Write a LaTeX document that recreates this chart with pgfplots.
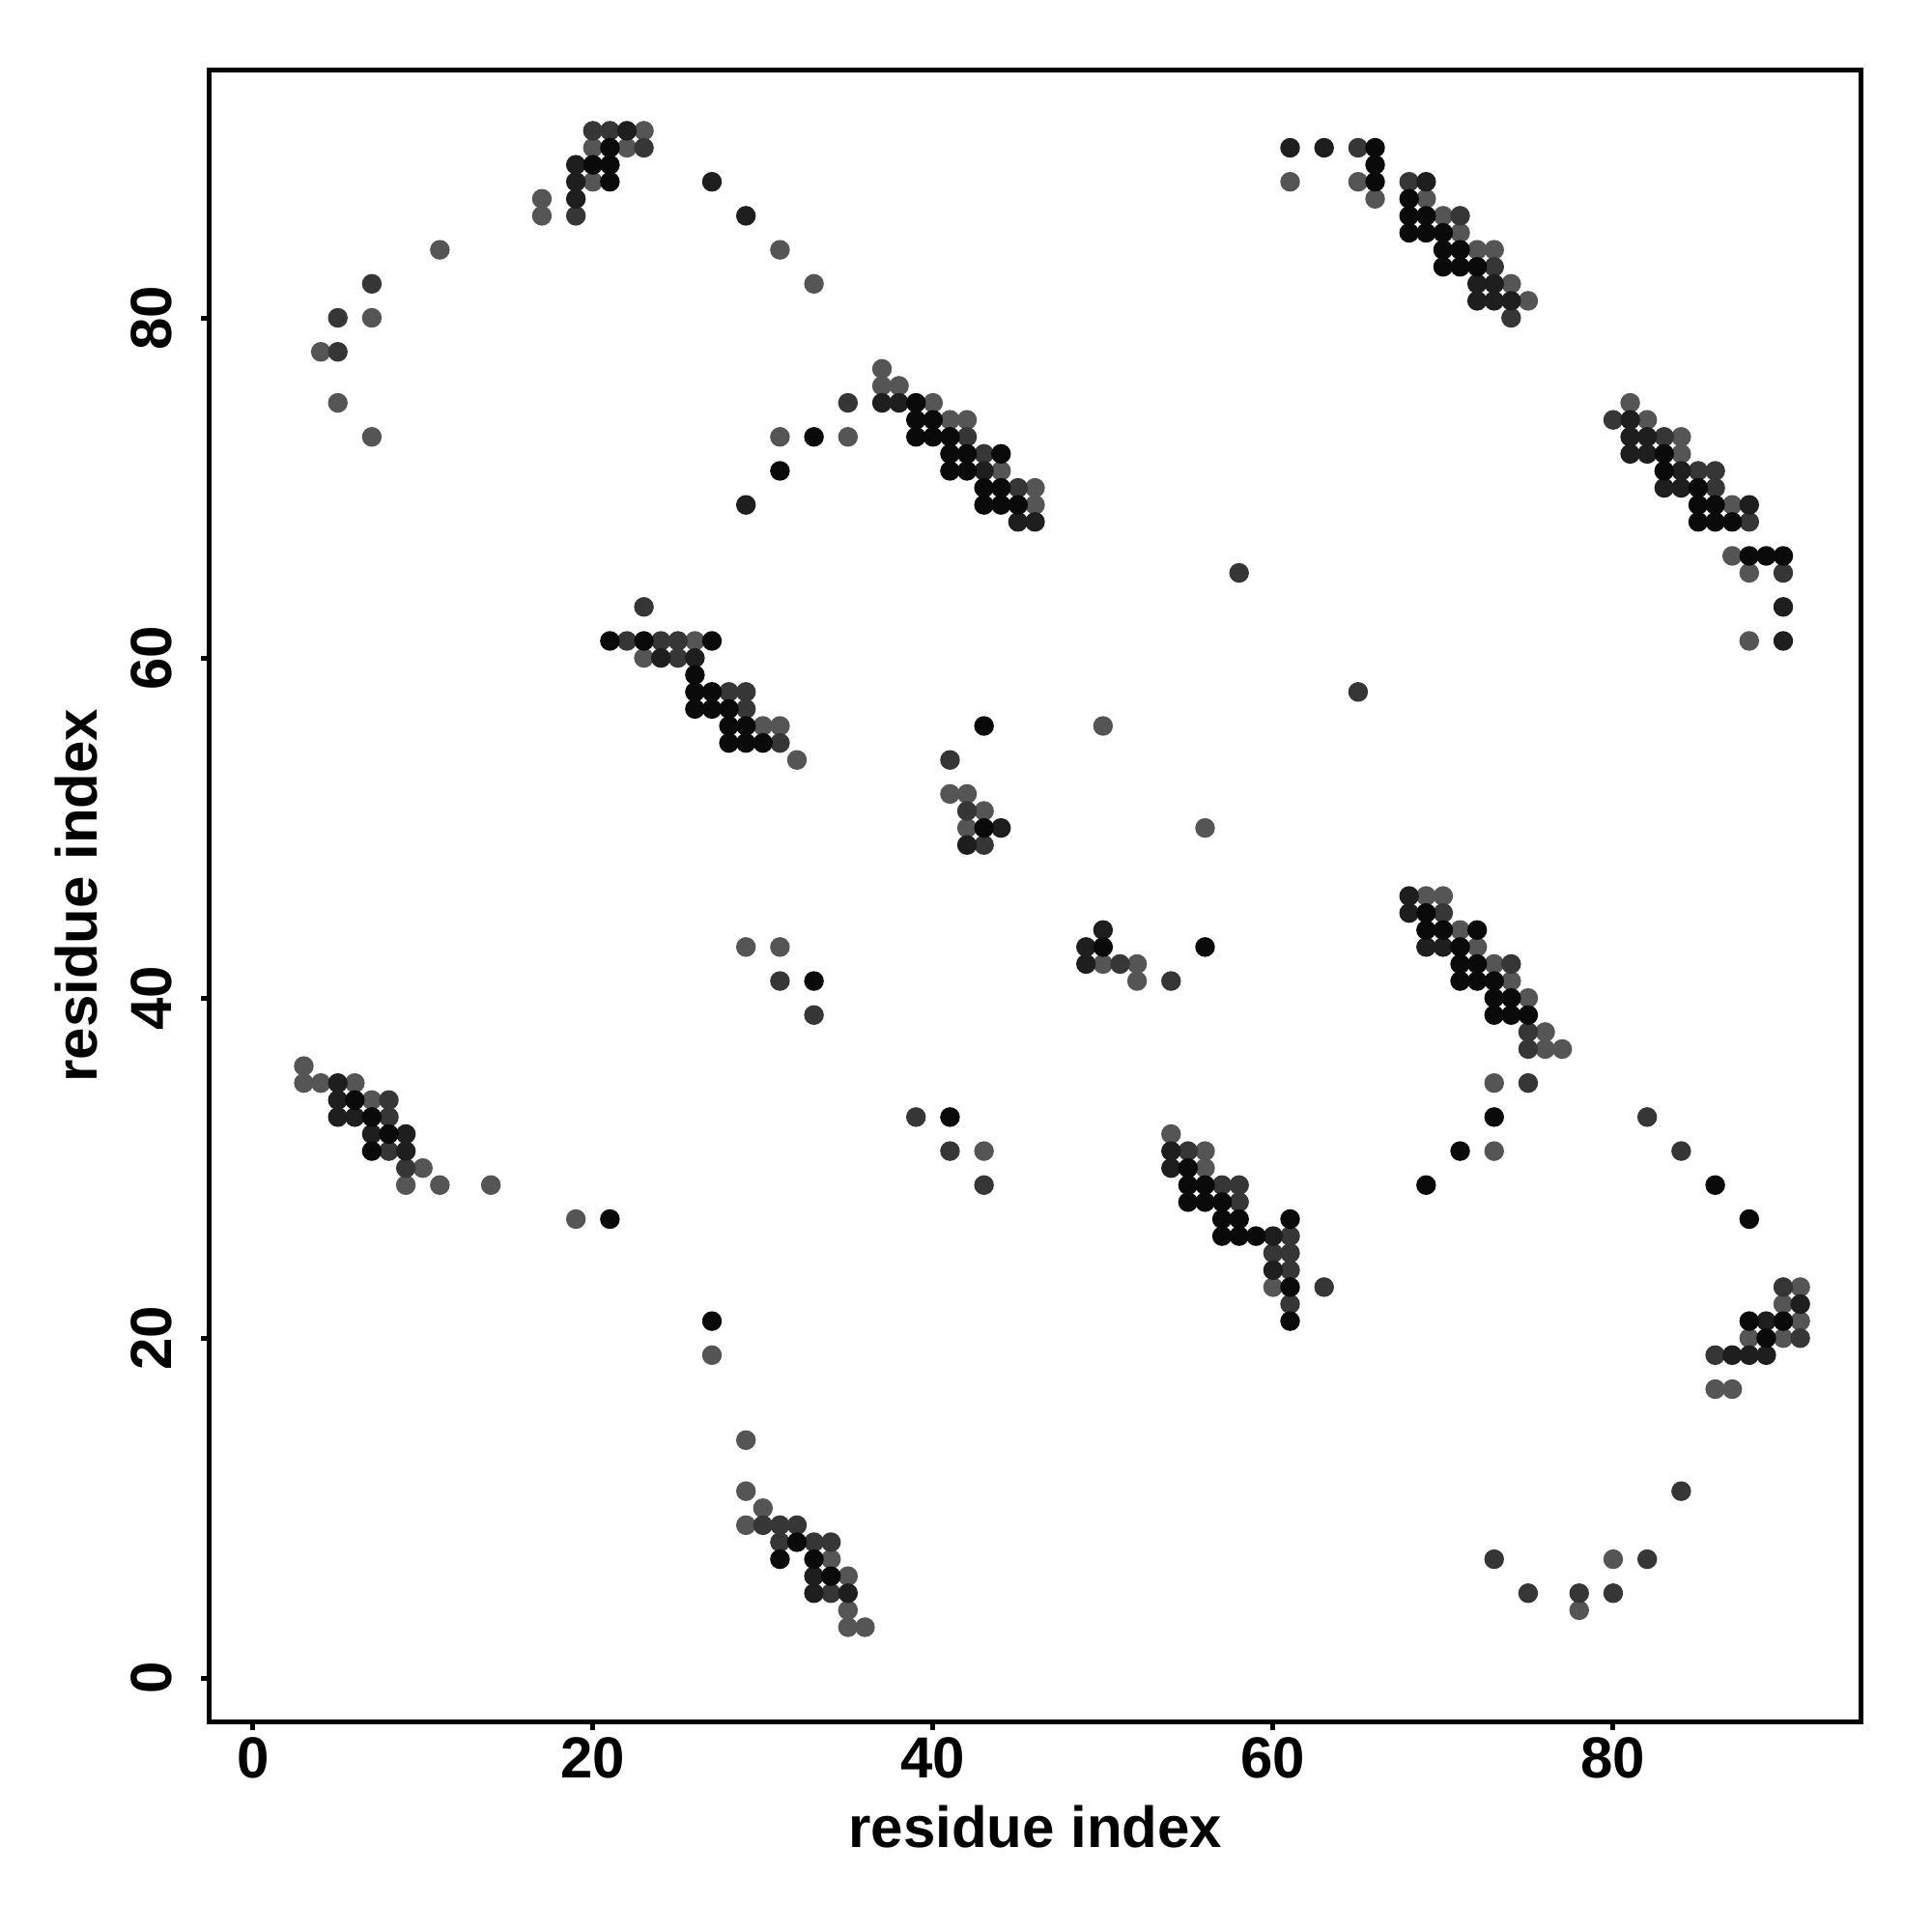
\documentclass[border=0pt]{standalone}
\usepackage{fontspec}
\setmainfont{Liberation Sans}
\usepackage{pgfplots}
\pgfplotsset{compat=1.18}
\definecolor{cA}{HTML}{0A0A0A}
\definecolor{cB}{HTML}{1E1E1E}
\definecolor{cC}{HTML}{363636}
\definecolor{cD}{HTML}{555555}
\begin{document}
\begin{tikzpicture}
\useasboundingbox (-43.4pt,-43.6pt) rectangle (356.6pt,356.4pt);
\begin{axis}[
  at={(0pt,0pt)}, anchor=south west, scale only axis,
  width=342pt, height=342pt,
  xmin=-2.54, xmax=94.6, ymin=-2.54, ymax=94.6,
  xtick={0,20,40,60,80}, ytick={0,20,40,60,80},
  tick align=outside, xtick pos=bottom, ytick pos=left,
  major tick length=1.7pt,
  axis line style={line width=1pt},
  every tick/.style={black, line width=1pt},
  /pgf/number format/assume math mode=true,
  ticklabel style={font=\fontsize{12}{14}\selectfont\bfseries},
  xticklabel style={anchor=north, yshift=1.9pt},
  yticklabel style={rotate=90, anchor=south, yshift=2.6pt},
  label style={font=\fontsize{12}{14}\selectfont\bfseries},
  xlabel={residue index}, ylabel={residue index},
  xlabel style={at={(axis description cs:0.5,0)}, anchor=center, yshift=-21.9pt},
  ylabel style={at={(axis description cs:0,0.5)}, anchor=center, yshift=27.6pt},
  every axis plot/.append style={only marks, mark=*, mark size=1.84pt},
]
\addplot[cD, mark options={draw=none, fill=cD}] coordinates {
(23,91) (20,90) (22,90) (20,88) (17,87) (17,86) (11,84) (7,80) (4,78) (5,75) (7,73)
(31,84) (33,82) (37,77) (37,76) (38,76) (40,75) (41,74) (42,74) (31,73) (35,73)
(44,71) (46,70) (46,69) (61,88) (65,88) (66,87) (69,87) (70,86) (71,85) (72,84) (73,84)
(74,82) (75,81) (81,75) (82,74) (84,73) (84,72) (87,69) (87,66) (88,65) (88,61)
(26,61) (23,60) (30,56) (31,56) (32,54) (50,56) (56,50) (41,52) (42,52) (43,51) (42,50)
(50,42) (52,42) (52,41) (69,46) (70,46) (71,44) (72,43) (73,42) (74,41) (76,38) (76,37)
(77,37) (73,35) (75,40) (3,36) (3,35) (4,35) (6,35) (7,34) (10,30) (9,29) (11,29) (14,29)
(54,32) (56,31) (56,30) (60,23) (29,14) (29,11) (30,10) (29,9) (34,7) (35,6) (35,4)
(35,3) (36,3) (91,23) (90,22) (91,21) (88,20) (90,20) (86,17) (87,17) (27,19) (19,27)
(29,43) (31,43) (43,31) (73,31) (78,4) (80,7)
};
\addplot[cC, mark options={draw=none, fill=cC}] coordinates {
(20,91) (21,91) (23,90) (19,86) (7,82) (5,80) (5,78) (35,75) (42,73) (43,72) (45,70)
(65,90) (68,88) (71,86) (73,83) (74,80) (80,74) (83,73) (86,71) (85,71) (86,70) (88,68)
(90,65) (23,63) (22,61) (24,61) (25,61) (25,60) (28,58) (29,58) (29,57) (31,55) (41,54)
(42,51) (43,49) (51,42) (54,41) (70,45) (74,42) (75,38) (75,37) (75,35) (8,34) (8,33)
(8,31) (9,30) (55,31) (57,29) (58,29) (58,28) (61,26) (60,25) (61,25) (61,22) (63,23)
(61,24) (32,9) (31,8) (33,8) (34,8) (30,9) (34,5) (31,9) (90,23) (86,19) (91,20)
(58,65) (65,58) (31,41) (33,39) (39,33) (41,31) (43,29) (84,31) (84,11) (73,7) (75,5)
(78,5) (80,5) (82,7) (82,33)
};
\addplot[cB, mark options={draw=none, fill=cB}] coordinates {
(22,91) (19,89) (19,88) (19,87) (27,88) (29,86) (37,75) (38,75) (43,71) (29,69) (45,68)
(46,68) (61,90) (63,90) (69,88) (72,82) (73,82) (72,81) (73,81) (74,81) (81,74) (81,73)
(82,73) (81,72) (82,72) (84,71) (83,70) (84,70) (88,69) (90,63) (90,61) (24,60) (26,60)
(44,50) (42,49) (50,44) (49,43) (49,42) (68,46) (68,45) (69,43) (70,43) (5,35) (5,34)
(5,33) (6,33) (7,32) (9,31) (9,32) (54,31) (54,30) (60,26) (60,24) (33,6) (33,5) (35,5)
(89,21) (88,19) (89,19) (87,19) (91,22)
};
\addplot[cA, mark options={draw=none, fill=cA}] coordinates {
(21,90) (20,89) (21,89) (21,88) (39,75) (39,74) (40,74) (33,73) (39,73) (40,73) (41,73)
(41,72) (42,72) (44,72) (31,71) (41,71) (42,71) (43,70) (44,70) (43,69) (44,69) (45,69)
(66,90) (66,89) (66,88) (68,87) (68,86) (69,86) (68,85) (69,85) (70,85) (70,84) (71,84)
(70,83) (71,83) (72,83) (83,72) (83,71) (85,70) (85,69) (86,69) (85,68) (86,68) (87,68)
(88,66) (89,66) (90,66) (21,61) (23,61) (27,61) (26,59) (26,58) (27,58) (26,57) (27,57)
(28,57) (28,56) (29,56) (28,55) (29,55) (30,55) (43,56) (43,50) (50,43) (56,43) (69,45)
(69,44) (70,44) (72,44) (71,43) (71,42) (72,42) (71,41) (72,41) (73,41) (73,40) (74,40)
(73,39) (74,39) (75,39) (6,34) (7,33) (8,32) (7,31) (55,30) (55,29) (56,29) (55,28)
(56,28) (57,28) (57,27) (58,27) (61,27) (57,26) (58,26) (59,26) (61,23) (61,21) (31,7)
(32,8) (33,7) (34,6) (88,21) (89,20) (90,21) (27,21) (21,27) (33,41) (41,33) (73,33)
(71,31) (69,29) (86,29) (88,27)
};
\end{axis}
\end{tikzpicture}
\end{document}
